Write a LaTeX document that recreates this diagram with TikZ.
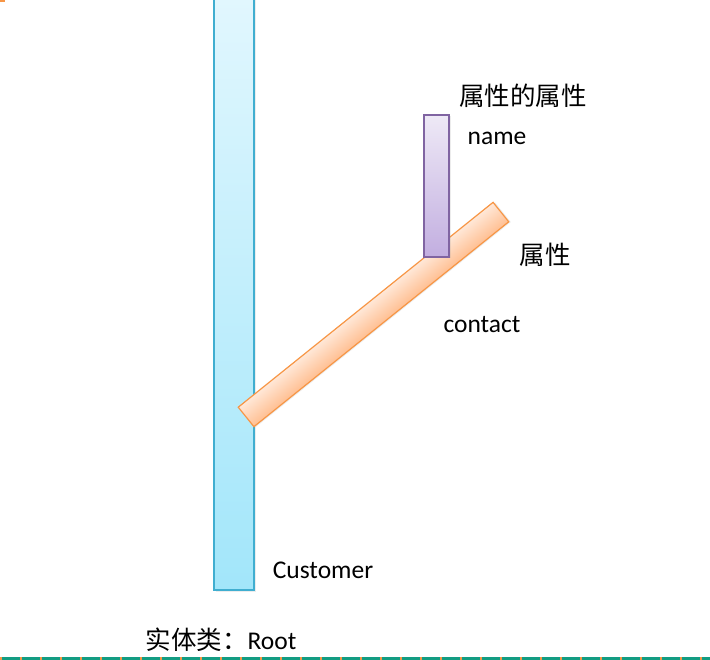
\documentclass[tikz,border=0pt]{standalone}
\usepackage{fontspec}
\setmainfont{Carlito}
\newfontfamily\cjk{Noto Sans CJK SC}
\usetikzlibrary{shadows}
\definecolor{bluetop}{HTML}{E2F7FE}
\definecolor{bluebot}{HTML}{A2E6FA}
\definecolor{blueline}{HTML}{40AED0}
\definecolor{purtop}{HTML}{EEE9F6}
\definecolor{purbot}{HTML}{C2AEE0}
\definecolor{purline}{HTML}{8064A2}
\definecolor{orgtop}{HTML}{FFE8D8}
\definecolor{orgbot}{HTML}{FFBF92}
\definecolor{orgline}{HTML}{F79646}
\definecolor{tealline}{HTML}{139C82}
\tikzset{
  bar/.style={draw, line width=1.2pt, inner sep=0pt, outer sep=0pt,
    drop shadow={opacity=0.15, shadow xshift=1.5pt, shadow yshift=-1.5pt}},
  lbl/.style={font=\fontsize{25.5}{30}\selectfont, inner sep=0pt}
}
\begin{document}
\begin{tikzpicture}[x=1pt,y=-1pt]
\useasboundingbox (0,0) rectangle (710,660);
\clip (0,0) rectangle (710,660);
% blue entity bar
\node[bar, draw=blueline, top color=bluetop, bottom color=bluebot,
  minimum width=40pt, minimum height=600pt, anchor=south west] (root) at (214,590) {};
% orange attribute bar (rotated canvas so the shading runs across the bar)
\begin{scope}[transform canvas={shift={(373.5,314.5)}, rotate=38.8}]
\node[bar, draw=orgline, top color=orgtop, bottom color=orgbot,
  minimum width=327pt, minimum height=25pt] (contactbar) at (0,0) {};
\end{scope}
% purple attribute-of-attribute bar
\node[bar, draw=purline, top color=purtop, bottom color=purbot,
  minimum width=25pt, minimum height=142pt, anchor=north west] (namebar) at (424,115) {};
% labels
\node[lbl] (t1) at (523,96) {\cjk 属性的属性};
\node[lbl] (t2) at (497,138.5) {name};
\node[lbl] (t3) at (545,255) {\cjk 属性};
\node[lbl] (t4) at (482,325) {contact};
\node[lbl] (t5) at (323,570) {Customer};
\node[lbl] (t6) at (221,640) {{\cjk 实体类：}Root};
% decorations
\fill[orgline] (0,0) rectangle (5,2);
\fill[tealline] (0,657) rectangle (710,660);
\draw[orgline, line width=3pt, dash pattern=on 2pt off 18pt] (0,658.5) -- (710,658.5);
\end{tikzpicture}
\end{document}
